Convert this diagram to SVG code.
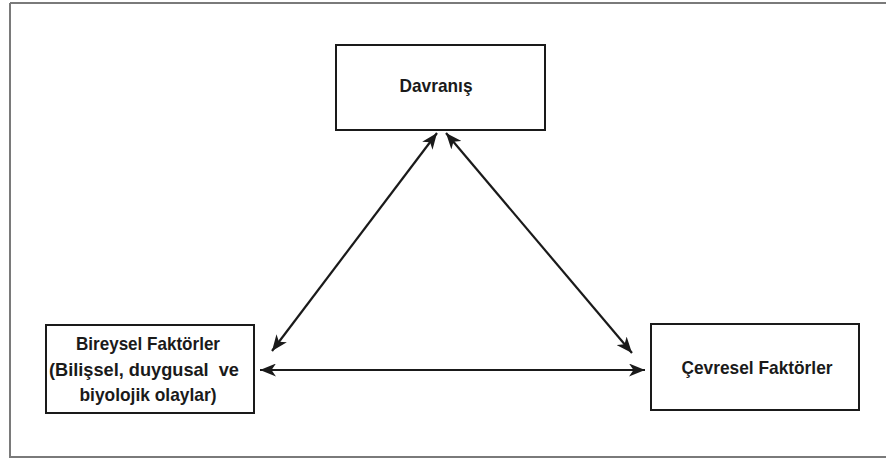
<svg xmlns="http://www.w3.org/2000/svg" width="886" height="463" viewBox="0 0 886 463">
  <style>
    .box { fill: #fff; stroke: #1a1a1a; stroke-width: 2; }
    .lbl { font-family: "Liberation Sans", Arial, sans-serif; font-weight: bold; font-size: 19px; fill: #1a1a1a; text-anchor: middle; }
    .link { stroke: #1a1a1a; stroke-width: 2.2; fill: none; marker-start: url(#head); marker-end: url(#head); }
    .frame { fill: none; stroke: #7a7a7a; stroke-width: 2; }
  </style>
  <defs>
    <marker id="head" markerUnits="userSpaceOnUse" markerWidth="17" markerHeight="13" viewBox="0 0 17 13" refX="16" refY="6.5" orient="auto-start-reverse">
      <path d="M0,0 L16,6.5 L0,13 L4.5,6.5 z" fill="#1a1a1a"/>
    </marker>
  </defs>

  <!-- outer frame -->
  <path class="frame" d="M10,3 H890 M10,3 V457 H890"/>

  <g id="connectors">
    <line class="link" x1="437" y1="133" x2="272" y2="351"/>
    <line class="link" x1="446" y1="133" x2="632" y2="353"/>
    <line class="link" x1="260" y1="370" x2="645" y2="370"/>
  </g>

  <g id="davranis">
    <rect class="box" x="336" y="45" width="209" height="85"/>
    <text class="lbl" x="436" y="92" textLength="73" lengthAdjust="spacingAndGlyphs">Davranış</text>
  </g>

  <g id="bireysel">
    <rect class="box" x="46" y="325" width="208" height="88"/>
    <text class="lbl" x="148" y="350" textLength="144" lengthAdjust="spacingAndGlyphs">Bireysel Faktörler</text>
    <text class="lbl" x="144" y="376" textLength="190" lengthAdjust="spacingAndGlyphs" xml:space="preserve">(Bilişsel, duygusal  ve</text>
    <text class="lbl" x="148" y="401" textLength="137" lengthAdjust="spacingAndGlyphs">biyolojik olaylar)</text>
  </g>

  <g id="cevresel">
    <rect class="box" x="651" y="324" width="208" height="86"/>
    <text class="lbl" x="757" y="374" textLength="151" lengthAdjust="spacingAndGlyphs">Çevresel Faktörler</text>
  </g>
</svg>
